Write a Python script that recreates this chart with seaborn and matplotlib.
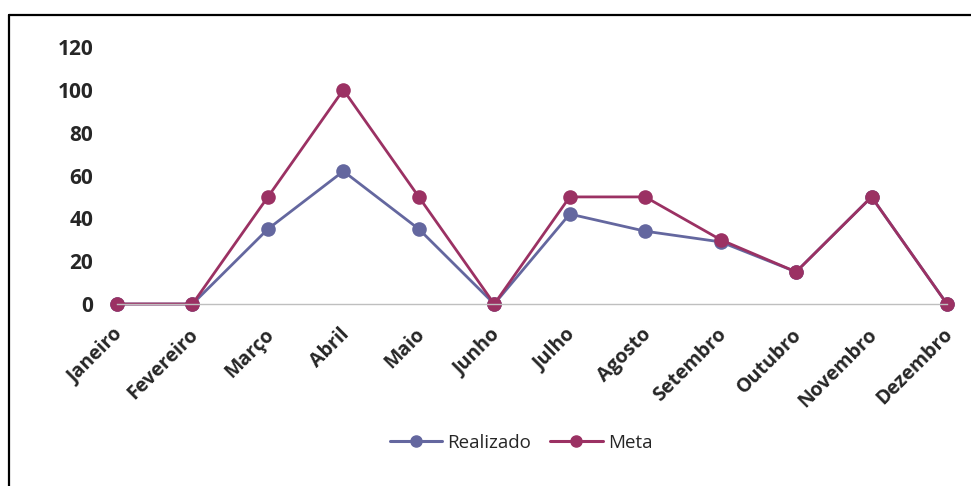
import matplotlib
matplotlib.use("Agg")
import matplotlib.pyplot as plt
from matplotlib.lines import Line2D
import matplotlib.transforms as mtransforms
import seaborn as sns
import pandas as pd

meses = ["Janeiro", "Fevereiro", "Março", "Abril", "Maio", "Junho",
         "Julho", "Agosto", "Setembro", "Outubro", "Novembro", "Dezembro"]
realizado = [0, 0, 35, 62, 35, 0, 42, 34, 29, 15, 50, 0]
meta = [0, 0, 50, 100, 50, 0, 50, 50, 30, 15, 50, 0]
series = ["Realizado", "Meta"]
yticks = [0, 20, 40, 60, 80, 100, 120]

cores = {"Realizado": "#64679F", "Meta": "#9B3163"}

df = pd.DataFrame({
    "Mês": meses * 2,
    "pos": list(range(len(meses))) * 2,
    "Valor": realizado + meta,
    "Série": ["Realizado"] * len(meses) + ["Meta"] * len(meses),
})

sns.set_theme(style="white")
plt.rcParams["font.family"] = ["Open Sans", "DejaVu Sans"]

fig = plt.figure(figsize=(9.71, 4.86), dpi=100)
ax = fig.add_axes([117 / 971, 1 - 304 / 486, (947 - 117) / 971, (304 - 47) / 486])

sns.lineplot(data=df, x="pos", y="Valor", hue="Série", hue_order=series,
             palette=cores, marker="o", markersize=10.5, markeredgewidth=0,
             linewidth=2, sort=False, ax=ax, legend=False, clip_on=False)

ax.set_xlim(0, len(meses) - 1)
ax.set_ylim(0, 120)
ax.set_yticks(yticks)
ax.set_yticklabels([str(t) for t in yticks], fontsize=15, fontweight="bold", color="#262626")
ax.set_xticks(range(len(meses)))
ax.set_xticklabels(meses, rotation=45, ha="right", va="center", rotation_mode="anchor",
                   fontsize=14, fontweight="bold", color="#262626")
ax.tick_params(axis="y", length=0, pad=17)
ax.tick_params(axis="x", length=0, pad=20)
offset = mtransforms.ScaledTranslation(3 / 100, 0, fig.dpi_scale_trans)
for lbl in ax.get_xticklabels():
    lbl.set_transform(lbl.get_transform() + offset)
ax.set_xlabel("")
ax.set_ylabel("")
for s in ["left", "right", "top"]:
    ax.spines[s].set_visible(False)
ax.spines["bottom"].set_color("#BFBFBF")
ax.spines["bottom"].set_linewidth(1)
ax.grid(False)

handles = [Line2D([], [], color=cores[s], marker="o", markersize=8, linewidth=2.2) for s in series]
fig.legend(handles, series, loc="center", bbox_to_anchor=(521 / 971, 1 - 443 / 486),
           ncol=2, frameon=False, fontsize=13.5, handlelength=2.8, handletextpad=0.27,
           columnspacing=1.0, labelcolor="#262626")

# moldura do gráfico
fig.add_artist(Line2D([9 / 971, 9 / 971], [0, 1 - 15 / 486], transform=fig.transFigure,
                      color="black", linewidth=1.6))
fig.add_artist(Line2D([9 / 971, 1], [1 - 15 / 486, 1 - 15 / 486], transform=fig.transFigure,
                      color="black", linewidth=1.6))

fig.savefig("out.png", dpi=100, facecolor="white")
